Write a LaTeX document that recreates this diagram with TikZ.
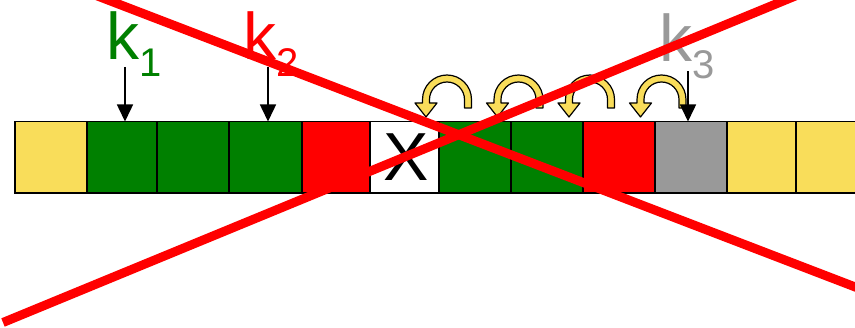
\documentclass[tikz,border=0pt]{standalone}
\usepackage{fontspec}
\setmainfont{Liberation Sans}
\usetikzlibrary{arrows.meta}
\definecolor{cyel}{HTML}{F9DD5A}
\definecolor{cgrn}{HTML}{008000}
\definecolor{cred}{HTML}{FF0000}
\definecolor{cgry}{HTML}{999999}
\tikzset{
  cell/.style={draw=black, line width=1.5pt, minimum height=71.5pt, inner sep=0pt, outer sep=0pt, anchor=south west},
  klabel/.style={inner sep=0pt, anchor=base west, font=\fontsize{66}{66}\selectfont},
  pointer/.style={-{Triangle[width=16pt,length=17pt]}, line width=1.5pt},
  uturn/.style={fill=cyel, draw=black, line width=1.2pt, line join=round},
  crossline/.style={draw=cred, line width=9pt},
}
\newcommand{\ksub}[1]{\raisebox{-17pt}{\fontsize{40}{40}\selectfont #1}}
\begin{document}
\begin{tikzpicture}[x=1pt,y=1pt]
\useasboundingbox (0,0) rectangle (855,327);
\clip (0,0) rectangle (855,327);
% cells
\foreach \i/\l/\r/\c in {0/15/87/cyel, 1/87/157/cgrn, 2/157/229/cgrn, 3/229/302/cgrn,
  4/302/370/cred, 5/370/439/white, 6/439/511/cgrn, 7/511/583/cgrn, 8/583/655/cred,
  9/655/727/cgry, 10/727/796/cyel, 11/796/868/cyel} {
  \node[cell, fill=\c, minimum width={\r-\l}] (c\i) at (\l,134) {};
}
\node[inner sep=0pt, font=\fontsize{68}{68}\selectfont] (xl) at ([xshift=2pt]c5.center) {X};
% labels
\node[klabel, text=cgrn] (k1) at (106,267) {k\ksub{1}};
\node[klabel, text=cred] (k2) at (243,267) {k\ksub{2}};
\node[klabel, text=cgry] (k3) at (659,265) {k\ksub{3}};
% pointers
\coordinate (p1) at ([xshift=3pt,yshift=54.5pt]c1.north);
\coordinate (t1) at ([xshift=3pt]c1.north);
\coordinate (p2) at ([xshift=2.5pt,yshift=54.5pt]c3.north);
\coordinate (t2) at ([xshift=2.5pt]c3.north);
\coordinate (p3) at ([xshift=-3pt,yshift=50pt]c9.north);
\coordinate (t3) at ([xshift=-3pt]c9.north);
% u-turn arrows
\foreach \cx in {447,518.5,590,661.5} {
  \pgfmathsetmacro{\cy}{227.5}
  \path[uturn] (\cx+24.5,\cy-8.5) -- (\cx+24.5,\cy)
    arc[start angle=0, end angle=180, radius=24.5]
    -- (\cx-24.5,\cy-3.5) -- (\cx-32,\cy-3.5) -- (\cx-21,\cy-17.5) -- (\cx-10,\cy-3.5)
    -- (\cx-17.5,\cy-3.5) -- (\cx-17.5,\cy)
    arc[start angle=180, end angle=0, radius=17.5]
    -- (\cx+17.5,\cy-8.5) -- cycle;
}
\draw[pointer] (p1) -- (t1);
\draw[pointer] (p2) -- (t2);
\draw[pointer] (p3) -- (t3);
% red cross
\coordinate (a1) at (60,345.4);
\coordinate (a2) at (900,22.8);
\coordinate (b1) at (3,4.5);
\coordinate (b2) at (830,345.3);
\draw[crossline] (a1) -- (a2);
\draw[crossline] (b1) -- (b2);
\end{tikzpicture}
\end{document}
